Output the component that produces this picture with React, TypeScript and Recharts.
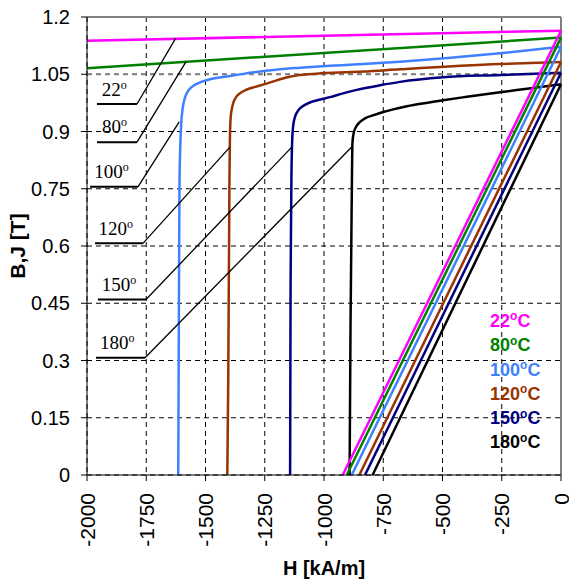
import React from "react"
import {
  LineChart,
  Line,
  XAxis,
  YAxis,
  CartesianGrid,
  ReferenceLine,
  ReferenceDot,
  Legend,
  Label,
} from "recharts"

// temperatures (ºC) and series colours
const temps = ["22", "80", "100", "120", "150", "180"]
const colors = ["#ff00ff", "#008000", "#3f80ff", "#993300", "#000080", "#000000"]

// B(H) straight lines: H where B = 0 and B at H = 0 (kA/m, T)
const bZeroH = [-921, -904, -883, -851, -827, -795]
const remanence = [1.164, 1.146, 1.122, 1.082, 1.054, 1.024]

// J(H) curves as [H, J] pairs
const j22 = [[-2000, 1.138], [0, 1.164]]
const j80 = [[-2000, 1.066], [0, 1.146]]
const j100 = [
  [-1615, 0], [-1613, 0.3], [-1610, 0.75], [-1606, 0.87], [-1602, 0.925],
  [-1596, 0.962], [-1586, 0.99], [-1570, 1.009], [-1548, 1.021], [-1518, 1.03],
  [-1481, 1.037], [-1411, 1.044], [-1340, 1.051], [-1270, 1.057], [-1186, 1.063],
  [-1101, 1.067], [-975, 1.072], [-679, 1.083], [-257, 1.105], [0, 1.122],
]
const j120 = [
  [-1408, 0], [-1404, 0.25], [-1399, 0.77], [-1397, 0.88], [-1394, 0.935],
  [-1387, 0.965], [-1375, 0.986], [-1355, 1.0], [-1325, 1.01], [-1290, 1.017],
  [-1250, 1.024], [-1200, 1.034], [-1150, 1.043], [-1101, 1.048], [-1003, 1.053],
  [-835, 1.057], [-679, 1.063], [-257, 1.077], [0, 1.082],
]
const j150 = [
  [-1143, 0], [-1141, 0.5], [-1137, 0.8], [-1134, 0.88], [-1130, 0.915],
  [-1123, 0.937], [-1110, 0.954], [-1090, 0.966], [-1060, 0.976], [-1020, 0.983],
  [-975, 0.99], [-920, 1.0], [-862, 1.009], [-764, 1.021], [-679, 1.03],
  [-498, 1.042], [-257, 1.048], [0, 1.054],
]
const j180 = [
  [-892, 0], [-888, 0.4], [-883, 0.72], [-880, 0.87], [-875, 0.895],
  [-864, 0.913], [-848, 0.925], [-825, 0.935], [-790, 0.943], [-750, 0.951],
  [-708, 0.958], [-660, 0.965], [-600, 0.972], [-498, 0.982], [-397, 0.991],
  [-257, 1.003], [-118, 1.014], [0, 1.024],
]
const jCurves = [j22, j80, j100, j120, j150, j180]

// leader lines for the serif temperature labels
const leaderLeftH = [-1958, -1958, -1987, -1966, -1954, -1962]
const leaderKneeH = [-1789, -1789, -1785, -1764, -1751, -1755]
const leaderBaseB = [0.972, 0.872, 0.755, 0.607, 0.46, 0.307]
const leaderTipH = [-1626, -1582, -1611, -1397, -1136, -882]
const leaderTipB = [1.144, 1.083, 0.925, 0.859, 0.859, 0.86]
const labelH = [-1938, -1937, -1969, -1952, -1938, -1945]
const labelB = [0.993, 0.895, 0.777, 0.629, 0.482, 0.33]

const xTicks = [-2000, -1750, -1500, -1250, -1000, -750, -500, -250, 0]
const yTicks = [0, 0.15, 0.3, 0.45, 0.6, 0.75, 0.9, 1.05, 1.2]

const sans = "'Liberation Sans', Arial, sans-serif"
const serif = "'Liberation Serif', 'Times New Roman', serif"

const toRows = (pts: number[][]) => pts.map(([h, b]) => ({ h, b }))

const XTick = ({ x, y, payload }: any) => (
  <text
    x={x}
    y={y}
    dy="0.36em"
    transform={`rotate(-90 ${x} ${y})`}
    textAnchor="end"
    fontFamily={sans}
    fontSize={21}
    fill="#000">
    {payload.value}
  </text>
)

const LegendBox = () => (
  <div style={{ fontFamily: sans, fontWeight: "bold", fontSize: 18, lineHeight: "24.3px", textAlign: "left" }}>
    {temps.map((t, i) => (
      <div key={t} style={{ color: colors[i], whiteSpace: "nowrap" }}>
        {t}
        <span style={{ fontSize: 12, position: "relative", top: -6.7, lineHeight: 0 }}>o</span>C
      </div>
    ))}
  </div>
)

export default function App() {
  return (
    <div style={{ position: "absolute", left: 0, top: 0, width: 569, height: 579, background: "#fff" }}>
      <LineChart width={569} height={579} margin={{ top: 17, right: 8, bottom: 0, left: 0 }}>
        <CartesianGrid stroke="#000" strokeDasharray="5 4" strokeWidth={1} />
        <XAxis
          dataKey="h"
          type="number"
          domain={[-2000, 0]}
          ticks={xTicks}
          height={104}
          stroke="#000"
          tickSize={6}
          tickMargin={12}
          tick={<XTick />}
          interval={0}>
          <Label
            content={() => (
              <text x={324} y={575} textAnchor="middle" fontFamily={sans} fontWeight="bold" fontSize={20} fill="#000">
                H [kA/m]
              </text>
            )}
          />
        </XAxis>
        <YAxis
          type="number"
          domain={[0, 1.2]}
          ticks={yTicks}
          width={87}
          stroke="#000"
          tickSize={6}
          tickMargin={11}
          interval={0}
          tick={{ fill: "#000", fontSize: 20, fontFamily: sans }}>
          <Label
            content={() => (
              <text
                x={25}
                y={246}
                transform="rotate(-90 25 246)"
                textAnchor="middle"
                fontFamily={sans}
                fontWeight="bold"
                fontSize={21}
                fill="#000">
                B,J [T]
              </text>
            )}
          />
        </YAxis>
        <ReferenceLine y={1.05} stroke="#808080" strokeWidth={2} strokeDasharray="5 4" />
        <ReferenceLine y={1.2} stroke="#808080" strokeWidth={2} />
        <ReferenceLine x={0} stroke="#808080" strokeWidth={2} />

        {jCurves.map((pts, i) => (
          <Line
            key={`j${temps[i]}`}
            data={toRows(pts)}
            dataKey="b"
            type="monotone"
            stroke={colors[i]}
            strokeWidth={2.5}
            dot={false}
            activeDot={false}
            isAnimationActive={false}
          />
        ))}
        {temps.map((t, i) => (
          <Line
            key={`b${t}`}
            data={[{ h: bZeroH[i], b: 0 }, { h: 0, b: remanence[i] }]}
            dataKey="b"
            type="linear"
            stroke={colors[i]}
            strokeWidth={2.5}
            dot={false}
            activeDot={false}
            isAnimationActive={false}
          />
        ))}

        {temps.map((t, i) => (
          <ReferenceLine
            key={`lh${t}`}
            segment={[{ x: leaderLeftH[i], y: leaderBaseB[i] }, { x: leaderKneeH[i], y: leaderBaseB[i] }]}
            stroke="#000"
            strokeWidth={2}
          />
        ))}
        {temps.map((t, i) => (
          <ReferenceLine
            key={`ld${t}`}
            segment={[{ x: leaderKneeH[i], y: leaderBaseB[i] }, { x: leaderTipH[i], y: leaderTipB[i] }]}
            stroke="#000"
            strokeWidth={1.3}
          />
        ))}
        {temps.map((t, i) => (
          <ReferenceDot
            key={`lt${t}`}
            x={labelH[i]}
            y={labelB[i]}
            r={0}
            shape={(p: any) => (
              <text x={p.cx} y={p.cy} fontFamily={serif} fontSize={19} fill="#000">
                {t}
                <tspan dy={-7} fontSize={12}>o</tspan>
              </text>
            )}
          />
        ))}

        <Legend
          layout="vertical"
          align="center"
          verticalAlign="middle"
          wrapperStyle={{ left: 490, top: 309, width: "auto", height: "auto" }}
          content={() => <LegendBox />}
        />
      </LineChart>
    </div>
  )
}
